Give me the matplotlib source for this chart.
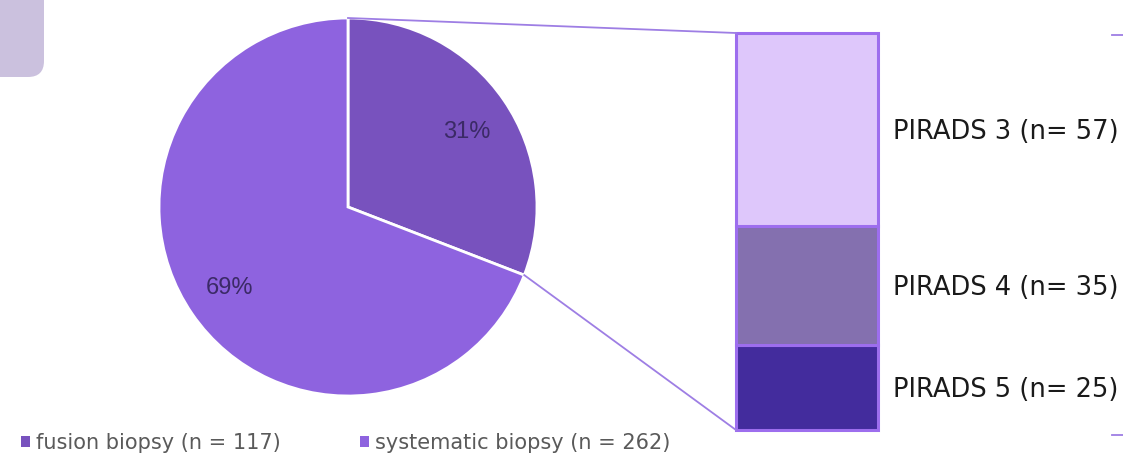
import numpy as np
import matplotlib.pyplot as plt
from matplotlib.patches import FancyBboxPatch

# pie data
biopsy_labels = ["fusion biopsy (n = 117)", "systematic biopsy (n = 262)"]
biopsy_n = [117, 262]
biopsy_colors = ["#7852BE", "#8E63DF"]

# breakdown of fusion biopsy
pirads_labels = ["PIRADS 3 (n= 57)", "PIRADS 4 (n= 35)", "PIRADS 5 (n= 25)"]
pirads_n = [57, 35, 25]
pirads_colors = ["#DEC7FB", "#8470AF", "#432C9D"]

W, H = 1123, 466
fig = plt.figure(figsize=(W / 100, H / 100), dpi=100)
ax = fig.add_axes([0, 0, 1, 1])
ax.set_xlim(0, W)
ax.set_ylim(0, H)
ax.set_aspect("equal")
ax.axis("off")

# pie
cx, cy, r = 348, 259, 189
wedges, _, autotexts = ax.pie(
    biopsy_n, colors=biopsy_colors, startangle=90, counterclock=False,
    center=(cx, cy), radius=r, autopct="%1.0f%%", pctdistance=0.76,
    wedgeprops=dict(edgecolor="white", linewidth=2),
    textprops=dict(color="#3B2A66", fontsize=17, family="Liberation Sans"),
)
autotexts[0].set_y(autotexts[0].get_position()[1] - 6)
ax.set_xlim(0, W)
ax.set_ylim(0, H)

# stacked bar
bx, bw = 807, 142
by0, by1 = 36, 433
scale = (by1 - by0) / sum(pirads_n)
bottom = by0
for lab, n, c in list(zip(pirads_labels, pirads_n, pirads_colors))[::-1]:
    h = n * scale
    ax.bar(bx, h, width=bw, bottom=bottom, color=c, edgecolor="#9D6EEE", linewidth=2.2)
    ax.text(bx + bw / 2 + 15, bottom + h / 2 - 2, lab, fontsize=18.5, color="#1a1a1a",
            va="center", ha="left", family="DejaVu Sans")
    bottom += h

# connector lines from the fusion slice to the bar
frac = biopsy_n[0] / sum(biopsy_n)
a0 = np.deg2rad(90)
a1 = np.deg2rad(90 - 360 * frac)
ax.plot([cx + r * np.cos(a0), bx - bw / 2], [cy + r * np.sin(a0), by1], color="#9E7EE4", lw=1.3)
ax.plot([cx + r * np.cos(a1), bx - bw / 2], [cy + r * np.sin(a1), by0], color="#9E7EE4", lw=1.3)

# small marks on the right edge
ax.plot([1112, 1123], [H - 35, H - 35], color="#9E7EE4", lw=1.3)
ax.plot([1112, 1123], [H - 435, H - 435], color="#9E7EE4", lw=1.3)

# decoration top-left
ax.add_patch(FancyBboxPatch((-30, H - 77), 74, 107, boxstyle="round,pad=0,rounding_size=16",
                            facecolor="#CBC1DE", edgecolor="none"))

leg = ax.legend(wedges, biopsy_labels, loc="lower left", bbox_to_anchor=(0.002, -0.012),
                ncol=2, frameon=False, fontsize=15, handlelength=0.42, handleheight=0.42,
                handletextpad=0.3, columnspacing=3.8, labelcolor="#5a5a5a")
for h in leg.legend_handles:
    h.set_edgecolor("none")

fig.savefig("out.png", dpi=100)
